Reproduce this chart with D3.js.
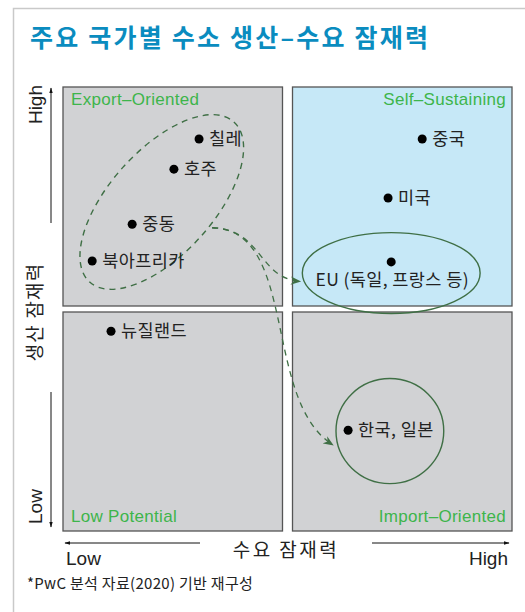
<!DOCTYPE html>
<html>
<head>
<meta charset="utf-8">
<script src="https://cdn.jsdelivr.net/npm/d3@7"></script>
<style>
  body { margin: 0; background: #fff; }
  svg { display: block; }
  .kr { font-family: "Noto Sans CJK KR", "Noto Sans", sans-serif; }
  .en { font-family: "Liberation Sans", Arial, sans-serif; }
</style>
</head>
<body>
<svg id="chart" width="525" height="612"></svg>
<script>
// 수소 생산-수요 잠재력 -- 0..100 scale, 50 = quadrant split

var countries = ["칠레", "호주", "중동", "북아프리카", "중국", "미국", "EU (독일, 프랑스 등)", "뉴질랜드", "한국, 일본"];
var demand    = [30.3, 24.7, 15.4, 6.5, 80.0, 72.4, 73.1, 10.7, 63.5];
var supply    = [88.3, 81.5, 69.1, 60.8, 88.3, 75.0, 60.6, 45.0, 22.7];

var quadrantNames = ["Export\u2013Oriented", "Self\u2013Sustaining", "Low Potential", "Import\u2013Oriented"];
var axisTicks = ["Low", "High"];

// groups drawn as ellipses (centre in data units, radii in demand units)
var groupNames  = ["export", "eu", "koreaJapan"];
var groupCx     = [22.0, 73.1, 72.8];
var groupCy     = [74.1, 58.1, 22.5];
var groupRx     = [24.0, 19.8, 12.0];
var groupRy     = [11.6, 9.0, 11.7];
var groupAngle  = [-48, 0, 0];

var svg = d3.select("#chart");

var x = d3.scaleLinear().domain([0, 100]).range([63, 512]);
var y = d3.scaleLinear().domain([0, 100]).range([531, 87]);

var gapX = 5, gapY = 3;
var green = "#3db54b", dark = "#3f6f45";

// outer frame
svg.append("rect")
  .attr("x", 13.5).attr("y", 8.5)
  .attr("width", 600).attr("height", 700)
  .attr("fill", "none").attr("stroke", "#c9c9c9").attr("stroke-width", 1.5);

svg.append("text").attr("class", "kr")
  .attr("x", 30).attr("y", 47)
  .attr("font-size", 25).attr("font-weight", 700)
  .attr("letter-spacing", 2.2)
  .attr("fill", "#0a8cbf")
  .text("주요 국가별 수소 생산\u2013수요 잠재력");

// quadrants
var quads = [
  {x0: 0, x1: 50, y0: 50, y1: 100, fill: "#d1d2d4"},
  {x0: 50, x1: 100, y0: 50, y1: 100, fill: "#c6e8f7"},
  {x0: 0, x1: 50, y0: 0, y1: 50, fill: "#d1d2d4"},
  {x0: 50, x1: 100, y0: 0, y1: 50, fill: "#d1d2d4"}
];

svg.selectAll("rect.quad").data(quads).enter().append("rect")
  .attr("class", "quad")
  .attr("x", function (d) { return x(d.x0) + (d.x0 > 0 ? gapX : 0); })
  .attr("y", function (d) { return y(d.y1) + (d.y1 < 100 ? gapY : 0); })
  .attr("width", function (d) { return x(d.x1) - x(d.x0) - gapX; })
  .attr("height", function (d) { return y(d.y0) - y(d.y1) - gapY; })
  .attr("fill", function (d) { return d.fill; })
  .attr("stroke", "#555").attr("stroke-width", 1.3);

svg.selectAll("text.qlabel").data(quads).enter().append("text")
  .attr("class", "qlabel en")
  .attr("x", function (d) { return d.x0 === 0 ? x(0) + 8 : x(100) - 6; })
  .attr("y", function (d) { return d.y0 === 50 ? y(100) + 18 : y(0) - 9; })
  .attr("text-anchor", function (d) { return d.x0 === 0 ? "start" : "end"; })
  .attr("font-size", 17).attr("letter-spacing", 0.3)
  .attr("fill", green)
  .text(function (d, i) { return quadrantNames[i]; });

// arrow markers
var defs = svg.append("defs");
defs.append("marker").attr("id", "ax")
  .attr("viewBox", "0 0 10 10").attr("refX", 9).attr("refY", 5)
  .attr("markerWidth", 6).attr("markerHeight", 6).attr("orient", "auto")
  .append("path").attr("d", "M0,2 L10,5 L0,8 Z").attr("fill", "#111");
defs.append("marker").attr("id", "gr")
  .attr("viewBox", "0 0 10 10").attr("refX", 9).attr("refY", 5)
  .attr("markerWidth", 8).attr("markerHeight", 8).attr("orient", "auto")
  .append("path").attr("d", "M0,1 L10,5 L0,9 L3,5 Z").attr("fill", dark);

// group ellipses
svg.selectAll("ellipse.grp").data(groupNames).enter().append("ellipse")
  .attr("class", "grp")
  .attr("cx", 0).attr("cy", 0)
  .attr("rx", function (d, i) { return x(groupRx[i]) - x(0); })
  .attr("ry", function (d, i) { return x(groupRy[i]) - x(0); })
  .attr("transform", function (d, i) {
    return "translate(" + x(groupCx[i]) + "," + y(groupCy[i]) + ") rotate(" + groupAngle[i] + ")";
  })
  .attr("fill", "none").attr("stroke", dark).attr("stroke-width", 1.4)
  .attr("stroke-dasharray", function (d, i) { return i === 0 ? "6,5" : null; });

// dashed flows from the export group
var start = [x(33.2), y(68.3)];
var flows = [
  [start, [x(44.5), y(67.9)], [x(43.4), y(57.0)], [x(52.8), y(56.2)]],
  [start, [x(52.5), y(67.9)], [x(44.3), y(29.5)], [x(60.1), y(19.4)]]
];
svg.selectAll("path.flow").data(flows).enter().append("path")
  .attr("class", "flow")
  .attr("d", function (p) {
    var path = d3.path();
    path.moveTo(p[0][0], p[0][1]);
    path.bezierCurveTo(p[1][0], p[1][1], p[2][0], p[2][1], p[3][0], p[3][1]);
    return path.toString();
  })
  .attr("fill", "none").attr("stroke", dark).attr("stroke-width", 1.3)
  .attr("stroke-dasharray", "6,5").attr("marker-end", "url(#gr)");

// points
var pts = countries.map(function (c, i) { return {name: c, x: demand[i], y: supply[i]}; });

svg.selectAll("circle.pt").data(pts).enter().append("circle")
  .attr("class", "pt")
  .attr("cx", function (d) { return x(d.x); })
  .attr("cy", function (d) { return y(d.y); })
  .attr("r", 4.5).attr("fill", "#000");

svg.selectAll("text.pl").data(pts).enter().append("text")
  .attr("class", "pl kr")
  .attr("x", function (d) { return d.name.indexOf("EU") === 0 ? x(d.x) + 1 : x(d.x) + 10; })
  .attr("y", function (d) { return d.name.indexOf("EU") === 0 ? y(d.y) + 24 : y(d.y) + 6; })
  .attr("text-anchor", function (d) { return d.name.indexOf("EU") === 0 ? "middle" : "start"; })
  .attr("font-size", 17.5).attr("letter-spacing", 0.4).attr("fill", "#222")
  .text(function (d) { return d.name; });

// axes
var axisG = svg.append("g").attr("stroke", "#111").attr("stroke-width", 1);
axisG.append("line").attr("x1", 51).attr("y1", 223).attr("x2", 51).attr("y2", 88).attr("marker-end", "url(#ax)");
axisG.append("line").attr("x1", 51).attr("y1", 392).attr("x2", 51).attr("y2", 527).attr("marker-end", "url(#ax)");
axisG.append("line").attr("x1", 200).attr("y1", 543).attr("x2", 65).attr("y2", 543).attr("marker-end", "url(#ax)");
axisG.append("line").attr("x1", 372).attr("y1", 543).attr("x2", 509).attr("y2", 543).attr("marker-end", "url(#ax)");

svg.append("text").attr("class", "en")
  .attr("transform", "translate(42,85) rotate(-90)")
  .attr("text-anchor", "end").attr("font-size", 19).attr("fill", "#222")
  .text(axisTicks[1]);
svg.append("text").attr("class", "en")
  .attr("transform", "translate(42,524) rotate(-90)")
  .attr("text-anchor", "start").attr("font-size", 19).attr("fill", "#222")
  .text(axisTicks[0]);
svg.append("text").attr("class", "kr")
  .attr("transform", "translate(42,312) rotate(-90)")
  .attr("text-anchor", "middle").attr("font-size", 19).attr("letter-spacing", 1.2).attr("fill", "#222")
  .text("생산 잠재력");

svg.append("text").attr("class", "en")
  .attr("x", 66).attr("y", 565).attr("font-size", 19).attr("fill", "#222")
  .text(axisTicks[0]);
svg.append("text").attr("class", "en")
  .attr("x", 508).attr("y", 565).attr("text-anchor", "end").attr("font-size", 19).attr("fill", "#222")
  .text(axisTicks[1]);
svg.append("text").attr("class", "kr")
  .attr("x", 286).attr("y", 557).attr("text-anchor", "middle").attr("font-size", 19).attr("letter-spacing", 2.5).attr("fill", "#222")
  .text("수요 잠재력");

svg.append("text").attr("class", "kr")
  .attr("x", 27).attr("y", 589).attr("font-size", 15).attr("letter-spacing", 0.3).attr("fill", "#222")
  .text("*PwC 분석 자료(2020) 기반 재구성");
</script>
</body>
</html>
